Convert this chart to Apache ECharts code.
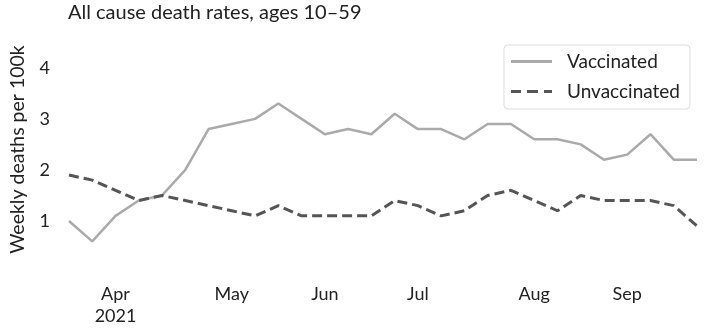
<!DOCTYPE html>
<html>
<head>
<meta charset="utf-8">
<script src="https://cdn.jsdelivr.net/npm/echarts@6/dist/echarts.min.js"></script>
<style>html,body{margin:0;padding:0;background:#fff}#c{width:704px;height:331px}</style>
</head>
<body>
<div id="c"></div>
<script>
// Week-ending dates (weekly data)
const weeks = ['2021-03-19','2021-03-26','2021-04-02','2021-04-09','2021-04-16','2021-04-23','2021-04-30',
  '2021-05-07','2021-05-14','2021-05-21','2021-05-28','2021-06-04','2021-06-11','2021-06-18','2021-06-25',
  '2021-07-02','2021-07-09','2021-07-16','2021-07-23','2021-07-30','2021-08-06','2021-08-13','2021-08-20',
  '2021-08-27','2021-09-03','2021-09-10','2021-09-17','2021-09-24'];
const vaccinated = [1.0,0.6,1.1,1.4,1.5,2.0,2.8,2.9,3.0,3.3,3.0,2.7,2.8,2.7,3.1,2.8,2.8,2.6,2.9,2.9,2.6,2.6,2.5,2.2,2.3,2.7,2.2,2.2];
const unvaccinated = [1.9,1.8,1.6,1.4,1.5,1.4,1.3,1.2,1.1,1.3,1.1,1.1,1.1,1.1,1.4,1.3,1.1,1.2,1.5,1.6,1.4,1.2,1.5,1.4,1.4,1.4,1.3,0.9];
const monthLabels = {'2021-04-02':'Apr\n2021','2021-05-07':'May','2021-06-04':'Jun','2021-07-02':'Jul','2021-08-06':'Aug','2021-09-03':'Sep'};
const yTicks = [1,2,3,4];

const FONT = 'Lato';
const SOLID_ICON = 'path://M0,0H41V3H0Z';
const DASH_ICON = 'path://M0,0H10V3H0Z M16,0H27V3H16Z M33,0H41V3H33Z';
const chart = echarts.init(document.getElementById('c'));
chart.setOption({
  animation: false,
  backgroundColor: '#fff',
  title: {
    text: 'All cause death rates, ages 10\u201359',
    left: 63, top: -2,
    textStyle: {fontFamily: FONT, fontSize: 20, fontWeight: 'normal', color: '#222'}
  },
  legend: {
    right: 14, top: 45,
    orient: 'vertical',
    itemWidth: 41, itemHeight: 3, itemGap: 11,
    padding: [7, 10, 8, 7],
    borderColor: '#dddddd', borderWidth: 1, borderRadius: 4,
    textStyle: {fontFamily: FONT, fontSize: 19, color: '#222', lineHeight: 18, padding: [0, 0, 0, 10]},
    data: [
      {name: 'Vaccinated', icon: SOLID_ICON, itemStyle: {color: '#aaaaaa'}},
      {name: 'Unvaccinated', icon: DASH_ICON, itemStyle: {color: '#555555'}}
    ]
  },
  grid: {left: 67, right: 7, top: 27, bottom: 59},
  xAxis: {
    type: 'category',
    data: weeks,
    boundaryGap: false,
    axisLine: {show: false},
    axisTick: {show: false},
    splitLine: {show: false},
    axisLabel: {
      interval: (i, v) => monthLabels[v] !== undefined,
      formatter: v => monthLabels[v] || '',
      fontFamily: FONT, fontSize: 18, color: '#222', margin: 11, lineHeight: 22
    }
  },
  yAxis: {
    type: 'value',
    min: 0, max: 4.8, interval: 1,
    name: 'Weekly deaths per 100k',
    nameLocation: 'middle', nameGap: 41, nameRotate: 90,
    nameTextStyle: {fontFamily: FONT, fontSize: 19.5, color: '#222'},
    axisLine: {show: false},
    axisTick: {show: false},
    splitLine: {show: false},
    axisLabel: {
      formatter: v => (yTicks.indexOf(v) >= 0 ? String(v) : ''),
      fontFamily: FONT, fontSize: 18, color: '#222', margin: 19
    }
  },
  series: [
    {
      name: 'Vaccinated', type: 'line', data: vaccinated,
      showSymbol: false, symbol: 'none',
      lineStyle: {color: '#aaaaaa', width: 2.5},
      itemStyle: {color: '#aaaaaa'}
    },
    {
      name: 'Unvaccinated', type: 'line', data: unvaccinated,
      showSymbol: false, symbol: 'none',
      lineStyle: {color: '#555555', width: 3, type: [10, 5]},
      itemStyle: {color: '#555555'}
    }
  ]
});
</script>
</body>
</html>
